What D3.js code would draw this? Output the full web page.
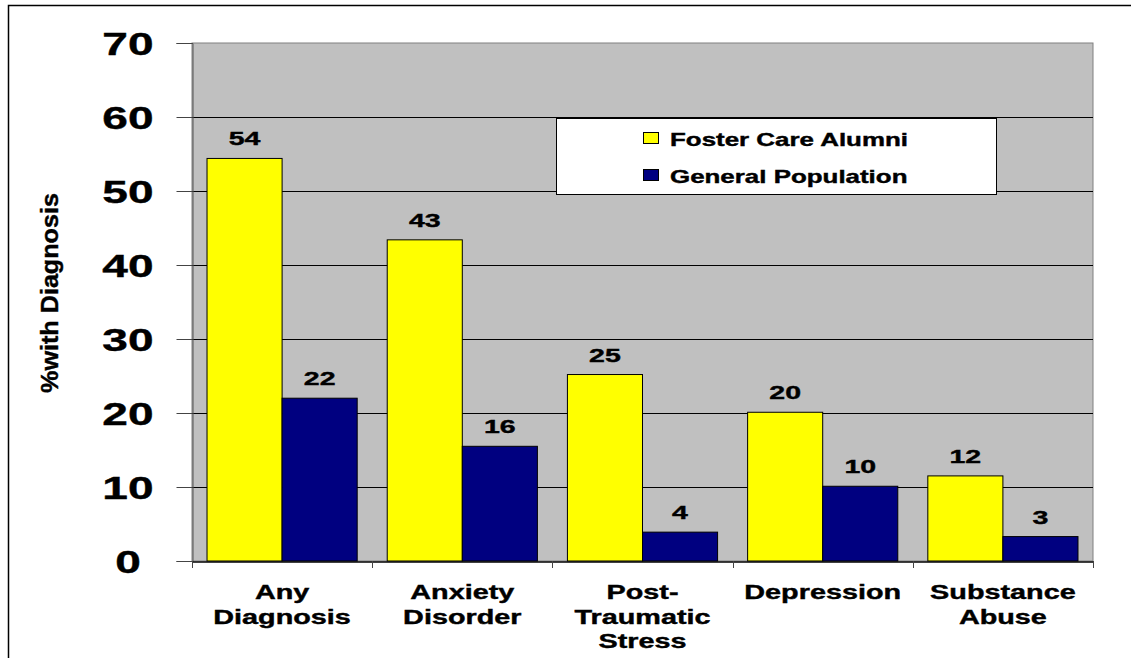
<!DOCTYPE html>
<html>
<head>
<meta charset="utf-8">
<script src="https://cdn.jsdelivr.net/npm/d3@7"></script>
<style>
	body { margin: 0; background: #fff; }
	text { font-family: "Liberation Sans", Arial, sans-serif; font-weight: bold; fill: #000; stroke: #000; stroke-width: 0.4px; }
</style>
</head>
<body>
<div id="graphicContainer"></div>
<script>
// data
var categories = [["Any", "Diagnosis"], ["Anxiety", "Disorder"], ["Post-", "Traumatic", "Stress"], ["Depression"], ["Substance", "Abuse"]]
var series = ["Foster Care Alumni", "General Population"]
var fosterCare = [54.4, 43.4, 25.2, 20.1, 11.5]
var generalPop = [22.0, 15.5, 3.9, 10.1, 3.3]
var yTicks = [0, 10, 20, 30, 40, 50, 60, 70]

var colours = ["#ffff00", "#000080"]
var stretch = 1.44

var width = 1131, height = 658
var plot = {left: 192, right: 1093, top: 43, bottom: 561}

var svg = d3.select("#graphicContainer").append("svg")
	.attr("width", width)
	.attr("height", height)

// outer frame
svg.append("path")
	.attr("d", "M8.5," + height + "V5.5H" + width)
	.attr("fill", "none")
	.attr("stroke", "#000")
	.attr("stroke-width", 1.5)

var x = d3.scaleBand()
	.domain(d3.range(categories.length))
	.range([plot.left, plot.right])

var xInner = d3.scaleBand()
	.domain(series)
	.range([0, x.bandwidth()])
	.paddingOuter(0.2)

var y = d3.scaleLinear()
	.domain([0, 70])
	.range([plot.bottom, plot.top])

function stretchedText(sel, px, py, str, size, sx) {
	return sel.append("text")
		.attr("transform", "translate(" + px + "," + py + ") scale(" + (sx || stretch) + ",1)")
		.attr("text-anchor", "middle")
		.style("font-size", size + "px")
		.text(str)
}

// plot background
svg.append("rect")
	.attr("x", plot.left)
	.attr("y", plot.top)
	.attr("width", plot.right - plot.left)
	.attr("height", plot.bottom - plot.top)
	.attr("fill", "#c0c0c0")
	.attr("stroke", "#808080")
	.attr("stroke-width", 1)

// gridlines + ticks
svg.selectAll(".grid")
	.data(yTicks.filter(function(d) { return d > 0 && d < 70 }))
	.enter().append("line")
	.attr("class", "grid")
	.attr("x1", plot.left)
	.attr("x2", plot.right)
	.attr("y1", function(d) { return Math.round(y(d)) + 0.5 })
	.attr("y2", function(d) { return Math.round(y(d)) + 0.5 })
	.attr("stroke", "#000")

var yAxis = d3.axisLeft(y).tickValues(yTicks).tickSize(16).tickFormat("")
svg.append("g")
	.attr("class", "y")
	.attr("transform", "translate(" + (plot.left + 0.5) + ",0)")
	.call(yAxis)
	.call(function(g) { g.select(".domain").attr("stroke", "#555") })
	.selectAll(".tick line").attr("stroke", "#444")

yTicks.forEach(function(t) {
	stretchedText(svg, 128, y(t) + 12, t, 32)
})

// bars
var groups = svg.selectAll(".cat")
	.data(categories.map(function(c, i) { return {i: i, values: [fosterCare[i], generalPop[i]]} }))
	.enter().append("g")
	.attr("class", "cat")
	.attr("transform", function(d) { return "translate(" + x(d.i) + ",0)" })

groups.selectAll(".bar")
	.data(function(d) { return d.values.map(function(v, j) { return {s: series[j], v: v, j: j} }) })
	.enter().append("rect")
	.attr("class", "bar")
	.attr("x", function(d) { return xInner(d.s) })
	.attr("y", function(d) { return y(d.v) })
	.attr("width", xInner.bandwidth())
	.attr("height", function(d) { return y(0) - y(d.v) })
	.attr("fill", function(d) { return colours[d.j] })
	.attr("stroke", "#000")
	.attr("stroke-width", 1)

groups.each(function(d) {
	var g = d3.select(this)
	d.values.forEach(function(v, j) {
		stretchedText(g, xInner(series[j]) + xInner.bandwidth() / 2, y(v) - 13, Math.round(v), 19, 1.5)
	})
})

// x axis
var xAxis = d3.axisBottom(x).tickSize(0).tickFormat("")
svg.append("g")
	.attr("class", "x")
	.attr("transform", "translate(0," + (plot.bottom + 0.5) + ")")
	.call(xAxis)
	.call(function(g) { g.select(".domain").attr("stroke", "#000").attr("stroke-width", 1.5) })

var boundaries = d3.range(categories.length + 1).map(function(i) { return plot.left + i * x.step() })
svg.selectAll(".xtick")
	.data(boundaries)
	.enter().append("line")
	.attr("class", "xtick")
	.attr("x1", function(d) { return Math.round(d) + 0.5 })
	.attr("x2", function(d) { return Math.round(d) + 0.5 })
	.attr("y1", plot.bottom)
	.attr("y2", plot.bottom + 7)
	.attr("stroke", "#444")

categories.forEach(function(lines, i) {
	lines.forEach(function(line, k) {
		stretchedText(svg, x(i) + x.bandwidth() / 2, 599 + k * 24.5, line, 20)
	})
})

// y title
svg.append("text")
	.attr("transform", "translate(58,293) rotate(-90)")
	.attr("text-anchor", "middle")
	.attr("textLength", 200)
	.attr("lengthAdjust", "spacingAndGlyphs")
	.style("font-size", "23px")
	.text("%with Diagnosis")

// legend
var legend = svg.append("g").attr("transform", "translate(556,118)")
legend.append("rect")
	.attr("x", 0.5)
	.attr("y", 0.5)
	.attr("width", 440)
	.attr("height", 76)
	.attr("fill", "#fff")
	.attr("stroke", "#000")

series.forEach(function(s, j) {
	legend.append("rect")
		.attr("x", 87.5)
		.attr("y", 14.5 + j * 37)
		.attr("width", 15)
		.attr("height", 11)
		.attr("fill", colours[j])
		.attr("stroke", "#000")
	legend.append("text")
		.attr("transform", "translate(114," + (27.5 + j * 37) + ") scale(" + stretch + ",1)")
		.style("font-size", "18px")
		.text(s)
})
</script>
</body>
</html>
